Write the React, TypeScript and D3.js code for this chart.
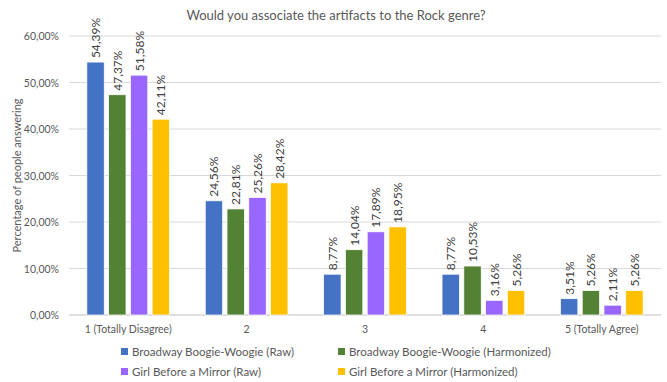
import React from "react";
import * as d3 from "d3";

const categories = ["1 (Totally Disagree)", "2", "3", "4", "5 (Totally Agree)"];
const seriesNames = [
  "Broadway Boogie-Woogie (Raw)",
  "Broadway Boogie-Woogie (Harmonized)",
  "Girl Before a Mirror (Raw)",
  "Girl Before a Mirror (Harmonized)",
];
const bbwRaw = [54.39, 24.56, 8.77, 8.77, 3.51];
const bbwHarm = [47.37, 22.81, 14.04, 10.53, 5.26];
const gbmRaw = [51.58, 25.26, 17.89, 3.16, 2.11];
const gbmHarm = [42.11, 28.42, 18.95, 5.26, 5.26];
const yTicks = [0, 10, 20, 30, 40, 50, 60];
const colors = ["#4472C4", "#548235", "#9966FF", "#FFC000"];

const seriesValues = [bbwRaw, bbwHarm, gbmRaw, gbmHarm];

const W = 667;
const H = 382;
const left = 69;
const right = 661;
const top = 36;
const bottom = 315;
const font = "Lato, 'Open Sans', sans-serif";
const fmt = (v: number) => v.toFixed(2).replace(".", ",") + "%";

export default function App() {
  const x = d3.scaleBand<string>().domain(categories).range([left, right]).paddingInner(0).paddingOuter(0);
  const y = d3.scaleLinear().domain([0, 60]).range([bottom, top]);
  const inner = d3
    .scaleBand<string>()
    .domain(seriesNames)
    .range([0, x.bandwidth()])
    .paddingInner(0.2)
    .paddingOuter(0.82);

  return (
    <svg width={W} height={H} style={{ position: "absolute", left: 0, top: 0, background: "#fff" }}>
      <text x={336} y={20} textAnchor="middle" fontFamily={font} fontSize={13} fill="#595959">
        Would you associate the artifacts to the Rock genre?
      </text>
      {yTicks.map((t) => (
        <g key={t}>
          <line x1={left} x2={right} y1={y(t)} y2={y(t)} stroke={t === 0 ? "#bfbfbf" : "#d9d9d9"} strokeWidth={1} />
          <text x={59} y={y(t) + 4} textAnchor="end" fontFamily={font} fontSize={10.5} fill="#595959">
            {fmt(t)}
          </text>
        </g>
      ))}
      <text
        transform={`translate(21,${(top + bottom) / 2}) rotate(-90)`}
        textAnchor="middle"
        fontFamily={font}
        fontSize={11}
        fill="#595959"
      >
        Percentage of people answering
      </text>
      {categories.map((c, ci) => (
        <g key={c}>
          {seriesNames.map((s, si) => {
            const v = seriesValues[si][ci];
            const bx = (x(c) as number) + (inner(s) as number);
            const bw = inner.bandwidth();
            const by = y(v);
            return (
              <g key={s}>
                <rect x={bx} y={by} width={bw} height={bottom - by} fill={colors[si]} stroke="#fff" strokeWidth={0.75} />
                <text
                  transform={`translate(${bx + bw / 2 + 4.5},${by - 4}) rotate(-90)`}
                  fontFamily={font}
                  fontSize={12}
                  fill="#404040"
                >
                  {fmt(v)}
                </text>
              </g>
            );
          })}
          <text x={(x(c) as number) + x.bandwidth() / 2} y={333} textAnchor="middle" fontFamily={font} fontSize={10.5} fill="#595959">
            {c}
          </text>
        </g>
      ))}
      {seriesNames.map((s, i) => {
        const lx = i % 2 === 0 ? 121 : 338;
        const ly = i < 2 ? 352 : 372;
        return (
          <g key={s}>
            <rect x={lx} y={ly - 4} width={7} height={7} fill={colors[i]} />
            <text x={lx + 11} y={ly + 4} fontFamily={font} fontSize={11.5} fill="#595959">
              {s}
            </text>
          </g>
        );
      })}
    </svg>
  );
}
